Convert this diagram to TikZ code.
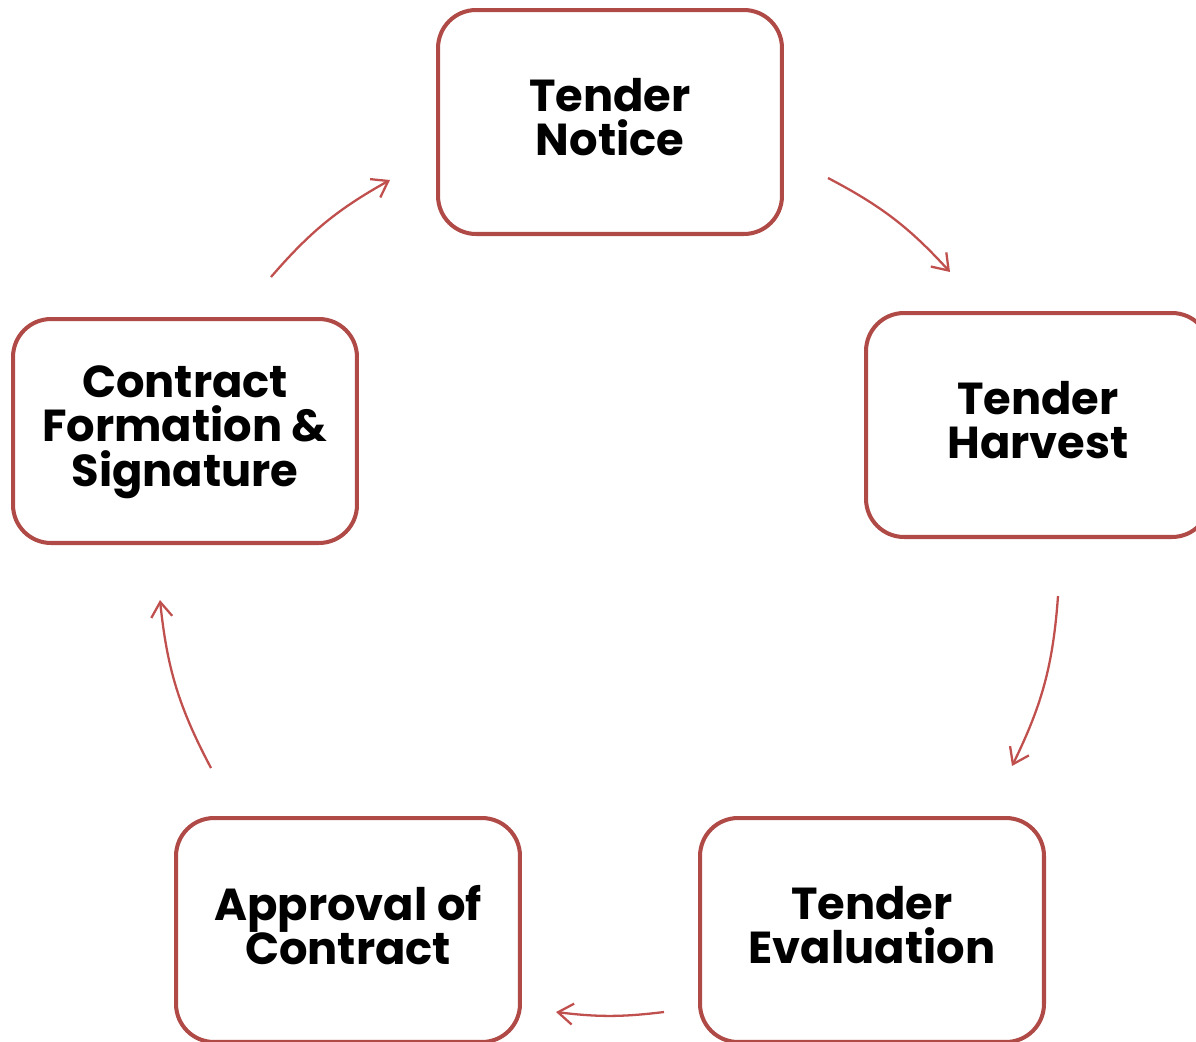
\documentclass[tikz,border=0pt]{standalone}
\usepackage{fontspec}
\setmainfont{Poppins}
\usetikzlibrary{arrows.meta, positioning}
\definecolor{boxred}{HTML}{B04A47}
\definecolor{arrred}{HTML}{C0504D}
\tikzset{
  stage/.style={draw=boxred, line width=2.3pt, rounded corners=0.76cm, minimum width=6.88cm, minimum height=4.48cm, align=center, inner sep=0pt, text depth=0.2cm, font=\fontsize{25.5}{25.5}\selectfont\bfseries},
  flow/.style={draw=arrred, line width=1.3pt, -{Straight Barb[length=0.3cm, width=0.42cm, line width=1.3pt]}}
}

\begin{document}
\begin{tikzpicture}[x=0.02cm, y=-0.02cm]
  \useasboundingbox (0,0) rectangle (1196,1041);
  \clip (0,0) rectangle (1196,1041);
  \node[stage] (notice) at (610,122) {Tender\\Notice};
  \node[stage] (harvest) at (1038,425) {Tender\\Harvest};
  \node[stage] (evaluation) at (872,930) {Tender\\Evaluation};
  \node[stage] (approval) at (348,930) {Approval of\\Contract};
  \node[stage] (contract) at (185,431) {Contract\\Formation \&\\Signature};
  % arrow ends
  \coordinate (a1s) at (828,178); \coordinate (a1e) at (950,272);
  \coordinate (a2s) at (1058,596); \coordinate (a2e) at (1012,766);
  \coordinate (a3s) at (664,1012); \coordinate (a3e) at (556,1012);
  \coordinate (a4s) at (211,768); \coordinate (a4e) at (160,600);
  \coordinate (a5s) at (271,277); \coordinate (a5e) at (390,180);
  \draw[flow] (a1s) to[bend left=10] (a1e);
  \draw[flow] (a2s) to[bend left=11] (a2e);
  \draw[flow] (a3s) to[bend left=7] (a3e);
  \draw[flow] (a4s) to[bend left=11] (a4e);
  \draw[flow] (a5s) to[bend left=10] (a5e);
\end{tikzpicture}
\end{document}
